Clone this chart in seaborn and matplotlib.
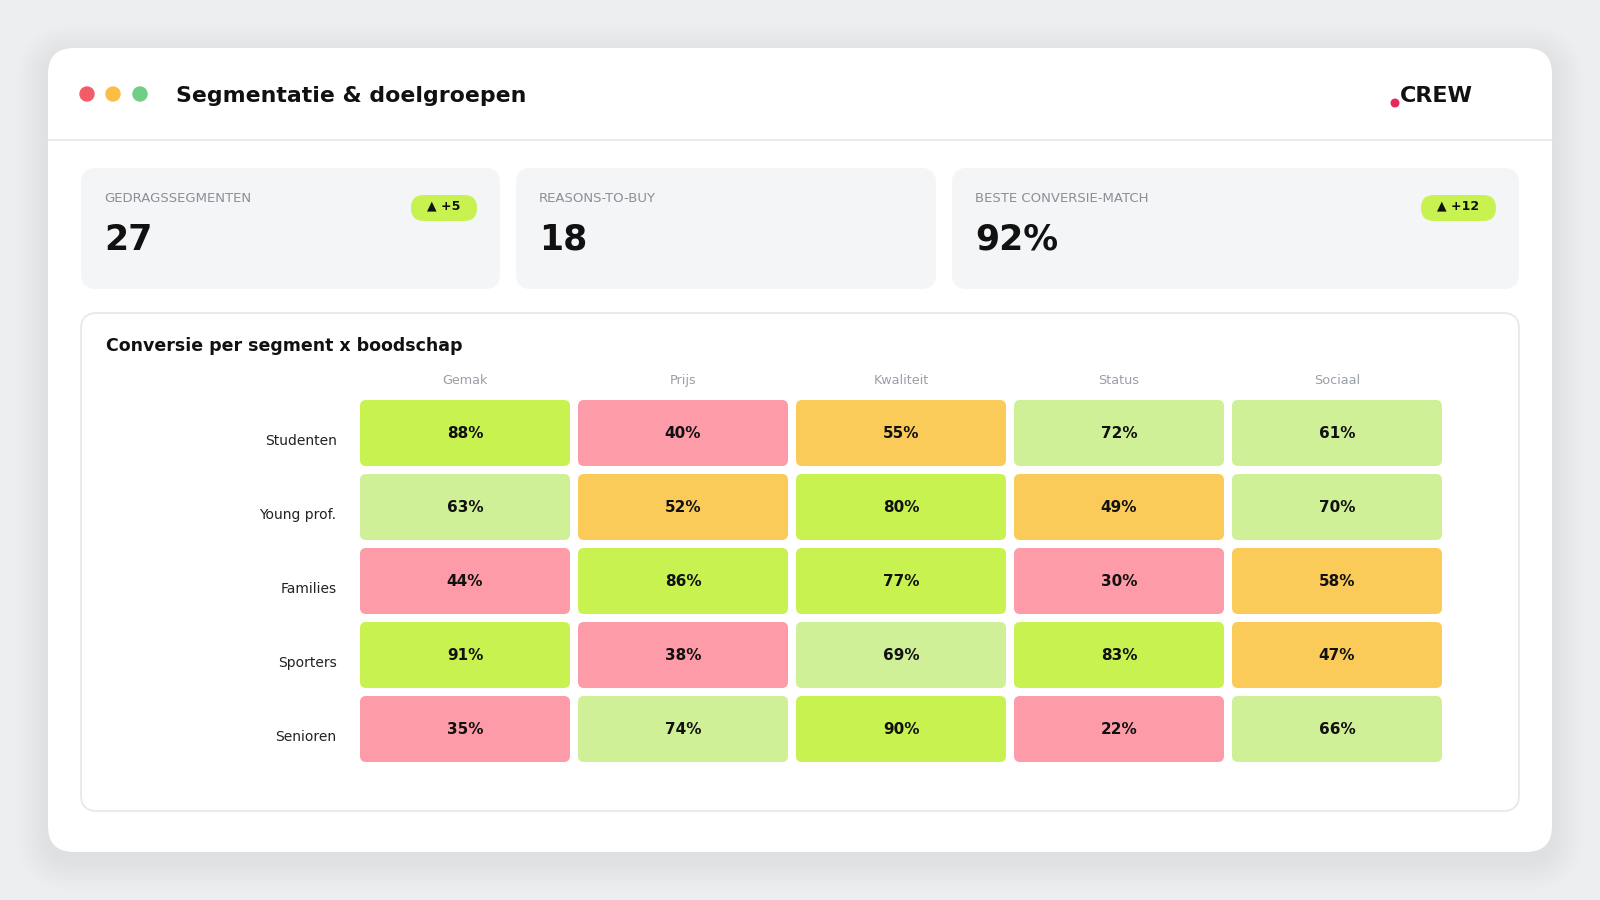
import numpy as np
import pandas as pd
import matplotlib
matplotlib.use("Agg")
import matplotlib.pyplot as plt
import seaborn as sns
from matplotlib.patches import FancyBboxPatch, Circle
from matplotlib.colors import ListedColormap, BoundaryNorm
from matplotlib.transforms import ScaledTranslation

# ---------------- data ----------------
segments = ["Studenten", "Young prof.", "Families", "Sporters", "Senioren"]
messages = ["Gemak", "Prijs", "Kwaliteit", "Status", "Sociaal"]
conv_studenten = [88, 40, 55, 72, 61]
conv_young_prof = [63, 52, 80, 49, 70]
conv_families = [44, 86, 77, 30, 58]
conv_sporters = [91, 38, 69, 83, 47]
conv_senioren = [35, 74, 90, 22, 66]

kpi_labels = ["GEDRAGSSEGMENTEN", "REASONS-TO-BUY", "BESTE CONVERSIE-MATCH"]
kpi_values = ["27", "18", "92%"]
kpi_badges = ["▲ +5", None, "▲ +12"]

title = "Segmentatie & doelgroepen"
panel_title = "Conversie per segment x boodschap"
logo = "CREW"

# colour buckets
bucket_edges = [0, 45, 60, 75, 101]
bucket_colors = ["#fe9ba8", "#fbcb5a", "#d0f098", "#c8f250"]

# ---------------- figure ----------------
sns.set_theme(style="white")
plt.rcParams["font.family"] = ["DejaVu Sans"]

W, H = 1600, 900
fig = plt.figure(figsize=(16, 9), dpi=100)
fig.patch.set_facecolor("#eceef0")

bg = fig.add_axes([0, 0, 1, 1])
bg.set_xlim(0, W)
bg.set_ylim(H, 0)
bg.axis("off")


def rbox(ax, x0, y0, x1, y1, r, fc, ec="none", lw=0, z=1, alpha=1.0):
    p = FancyBboxPatch((x0, y0), x1 - x0, y1 - y0,
                       boxstyle=f"round,pad=0,rounding_size={r}",
                       fc=fc, ec=ec, lw=lw, zorder=z, alpha=alpha)
    ax.add_patch(p)
    return p


# soft shadow around main card
for k in range(14):
    e = 2 + k * 2.2
    rbox(bg, 48 - e, 48 - e + 8, 1552 + e, 852 + e + 8, 26 + e, "#9aa0a8",
         z=0.5, alpha=0.013)

# main card
rbox(bg, 48, 48, 1552, 852, 26, "white", z=1)

# header
for cx, col in zip([87, 113, 140], ["#f45b69", "#fbbd44", "#6fcf86"]):
    bg.add_patch(Circle((cx, 94), 7, color=col, zorder=2))
bg.text(176, 96, title, fontsize=15.8, fontweight="bold", color="#111111",
        va="center", ha="left", zorder=3)
bg.text(1400, 96, logo, fontsize=16, fontweight="bold", color="#111111",
        va="center", ha="left", zorder=3)
bg.add_patch(Circle((1395, 103), 3.8, color="#e8275f", zorder=4))
bg.plot([48, 1552], [140, 140], color="#e6e8eb", lw=1.2, zorder=2)

# KPI cards
card_x = [(81, 500), (516, 936), (952, 1519)]
badge_w = [66, None, 75]
for (x0, x1), lab, val, bdg, bw in zip(card_x, kpi_labels, kpi_values,
                                      kpi_badges, badge_w):
    rbox(bg, x0, 168, x1, 289, 15, "#f3f5f7", z=2)
    bg.text(x0 + 23, 198, lab, fontsize=9.5, color="#8a8f98",
            va="center", ha="left", zorder=3)
    bg.text(x0 + 23, 240, val, fontsize=25, fontweight="bold",
            color="#111111", va="center", ha="left", zorder=3)
    if bdg:
        bx1 = x1 - 23
        bx0 = bx1 - bw
        rbox(bg, bx0, 195, bx1, 221, 13, "#c8f250", z=3)
        bg.text((bx0 + bx1) / 2, 206, bdg, fontsize=9, fontweight="bold",
                color="#111111", va="center", ha="center", zorder=4)

# heatmap panel
rbox(bg, 81, 313, 1519, 811, 16, "white", ec="#e5e7eb", lw=1.2, z=2)
bg.text(106, 346, panel_title, fontsize=12.5, fontweight="bold",
        color="#111111", va="center", ha="left", zorder=3)

# ---------------- heatmap ----------------
df = pd.DataFrame([conv_studenten, conv_young_prof, conv_families,
                   conv_sporters, conv_senioren],
                  index=segments, columns=messages)
annot = df.map(lambda v: f"{v}%")

cmap = ListedColormap(bucket_colors)
norm = BoundaryNorm(bucket_edges, cmap.N)

ax_l, ax_r, ax_t, ax_b = 356, 1446, 396, 766
hx = fig.add_axes([ax_l / W, (H - ax_b) / H, (ax_r - ax_l) / W,
                   (ax_b - ax_t) / H])
hx.patch.set_alpha(0)
sns.heatmap(df, ax=hx, cmap=cmap, norm=norm, annot=annot, fmt="",
            cbar=False,
            annot_kws={"fontsize": 11, "fontweight": "bold",
                       "color": "#111111"})
hx.collections[0].set_visible(False)

cell_px_w = (ax_r - ax_l) / len(messages)
cell_px_h = (ax_b - ax_t) / len(segments)
gx = 4 / cell_px_w
gy = 4 / cell_px_h
rad = 6 / cell_px_w
asp = cell_px_w / cell_px_h
for i in range(df.shape[0]):
    for j in range(df.shape[1]):
        col = cmap(norm(df.iat[i, j]))
        hx.add_patch(FancyBboxPatch((j + gx, i + gy), 1 - 2 * gx, 1 - 2 * gy,
                                    boxstyle=f"round,pad=0,rounding_size={rad}",
                                    mutation_aspect=asp, fc=col, ec="none",
                                    zorder=1))

hx.xaxis.tick_top()
hx.set_xlabel("")
hx.set_ylabel("")
hx.tick_params(axis="x", length=0, pad=6.5, labelsize=9.2,
               labelcolor="#9a9ea6", rotation=0)
hx.tick_params(axis="y", length=0, pad=14, labelsize=10,
               labelcolor="#222222", rotation=0)
for lbl in hx.get_yticklabels():
    lbl.set_transform(lbl.get_transform() +
                      ScaledTranslation(0, -8 / 100, fig.dpi_scale_trans))
for s in hx.spines.values():
    s.set_visible(False)

fig.savefig("out.png", dpi=100, facecolor=fig.get_facecolor())
